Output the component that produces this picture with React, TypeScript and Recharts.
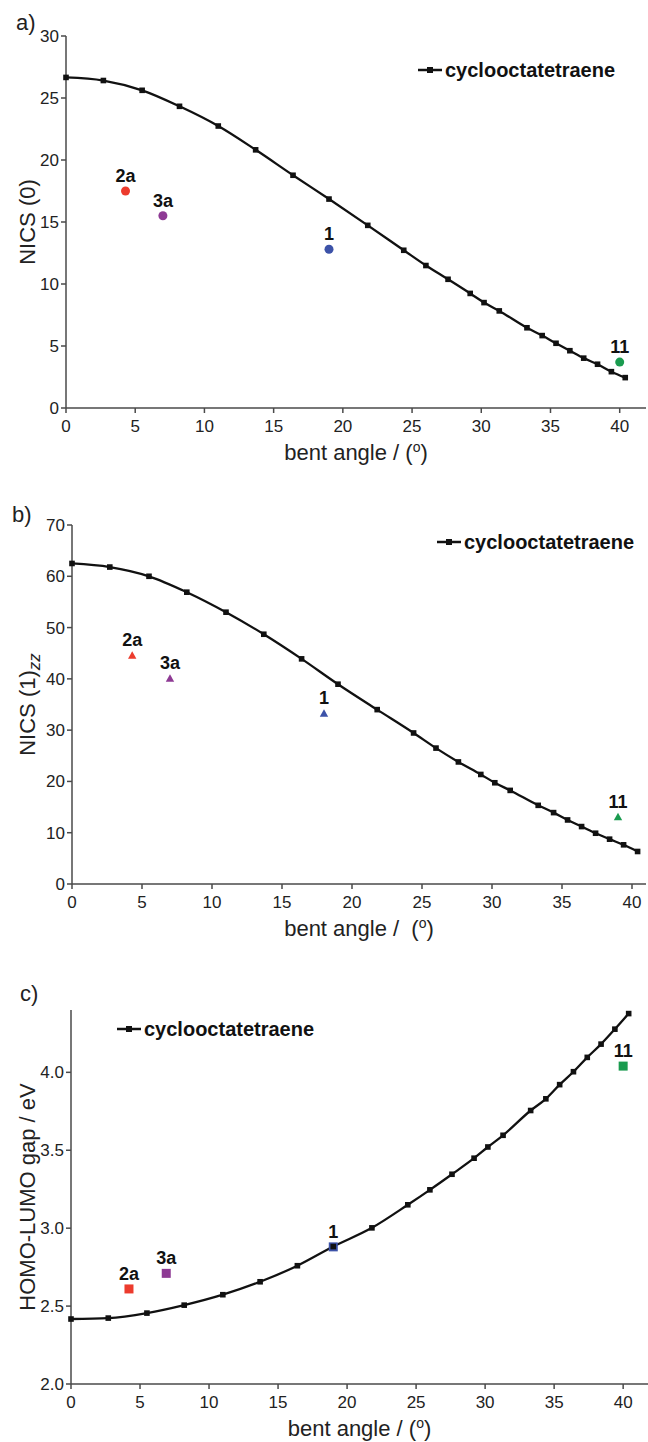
import React from 'react';
import { ComposedChart, Line, Scatter, XAxis, YAxis, Legend, Cell, Label } from 'recharts';

// computed cyclooctatetraene curve (bent angle in degrees)
const bentAngles = [0, 2.7, 5.5, 8.2, 11.0, 13.7, 16.4, 19.0, 21.8, 24.4, 26.0, 27.6, 29.2, 30.2, 31.3, 33.3, 34.4, 35.4, 36.4, 37.4, 38.4, 39.4, 40.4];
const nics0Curve = [26.66, 26.41, 25.62, 24.33, 22.74, 20.82, 18.77, 16.85, 14.73, 12.72, 11.49, 10.38, 9.24, 8.5, 7.83, 6.47, 5.84, 5.22, 4.62, 4.02, 3.53, 2.93, 2.45];
const nics1zzCurve = [62.5, 61.8, 60.0, 56.9, 53.0, 48.7, 43.9, 38.96, 34.0, 29.45, 26.5, 23.8, 21.36, 19.74, 18.25, 15.34, 13.92, 12.49, 11.2, 9.9, 8.74, 7.64, 6.34];
const gapCurve = [2.417, 2.423, 2.455, 2.506, 2.573, 2.656, 2.759, 2.882, 3.002, 3.15, 3.246, 3.346, 3.449, 3.521, 3.596, 3.755, 3.83, 3.921, 4.004, 4.096, 4.181, 4.277, 4.377];

// compounds
const compoundNames = ['2a', '3a', '1', '11'];
const compoundColors = ['#ec3b2d', '#8e3a94', '#3c52a8', '#1a9b4f'];
const nics0Angles = [4.3, 7.0, 19.0, 40.0];
const nics0Values = [17.5, 15.5, 12.8, 3.7];
const nics1zzAngles = [4.3, 7.0, 18.0, 39.0];
const nics1zzValues = [44.6, 40.1, 33.3, 13.1];
const gapAngles = [4.2, 6.9, 19.0, 40.0];
const gapValues = [2.61, 2.71, 2.88, 4.04];

const xTicks = [0, 5, 10, 15, 20, 25, 30, 35, 40];
const nics0Ticks = [0, 5, 10, 15, 20, 25, 30];
const nics1zzTicks = [0, 10, 20, 30, 40, 50, 60, 70];
const gapTicks = [2.0, 2.5, 3.0, 3.5, 4.0];

const FONT = "'Liberation Sans', Arial, Helvetica, sans-serif";
const AXIS = '#4a4a4a';

const toRows = (xs: number[], ys: number[], names?: string[]) =>
  xs.map((x, i) => ({ x, y: ys[i], name: names ? names[i] : '' }));

const squareDot = (props: any) => {
  const { cx, cy, index } = props;
  if (cx == null || cy == null) return <g key={`d${index}`} />;
  return <rect key={`d${index}`} x={cx - 2.8} y={cy - 2.8} width={5.6} height={5.6} fill="#111" />;
};

const pointLabel = (props: any) => (
  <text x={props.cx} y={props.cy - 9} textAnchor="middle" fontFamily={FONT} fontWeight="bold" fontSize={18} fill="#111">
    {props.payload.name}
  </text>
);

const circleShape = (props: any) => (
  <g>
    <circle cx={props.cx} cy={props.cy} r={4.5} fill={props.fill} />
    {pointLabel(props)}
  </g>
);

const triangleShape = (props: any) => {
  const { cx, cy } = props;
  return (
    <g>
      <polygon points={`${cx - 4.2},${cy + 3.5} ${cx + 4.2},${cy + 3.5} ${cx},${cy - 4}`} fill={props.fill} />
      {pointLabel(props)}
    </g>
  );
};

const squareShape = (props: any) => (
  <g>
    <rect x={props.cx - 4.5} y={props.cy - 4.5} width={9} height={9} fill={props.fill} />
    {pointLabel(props)}
  </g>
);

interface PanelProps {
  top: number;
  height: number;
  marginTop: number;
  plotHeight: number;
  yWidth: number;
  marginRight: number;
  xMax: number;
  yDomain: [number, number];
  yTicks: number[];
  curve: number[];
  angles: number[];
  values: number[];
  shape: (p: any) => React.ReactElement;
  yTitle: React.ReactNode;
  xGap: string;
  legendX: number;
  legendY: number;
  letter: string;
  letterX: number;
  letterY: number;
  fmt?: (v: number) => string;
}

const Panel: React.FC<PanelProps> = (p) => {
  const xAxisH = p.height - p.marginTop - p.plotHeight;
  const plotTop = p.marginTop;
  const plotBottom = p.marginTop + p.plotHeight;
  const plotLeft = p.yWidth;
  const plotRight = 648 - p.marginRight;
  const curveRows = toRows(bentAngles, p.curve);
  const pointRows = toRows(p.angles, p.values, compoundNames);

  const renderLegend = () => (
    <div style={{ display: 'flex', alignItems: 'center', height: 24, fontFamily: FONT, fontWeight: 'bold', fontSize: 20, color: '#111', whiteSpace: 'nowrap' }}>
      <svg width={26} height={24}>
        <line x1={1} y1={12} x2={25} y2={12} stroke="#111" strokeWidth={2.5} />
        <rect x={10} y={9} width={6} height={6} fill="#111" />
      </svg>
      <span style={{ marginLeft: 2 }}>cyclooctatetraene</span>
    </div>
  );

  return (
    <div style={{ position: 'absolute', left: 0, top: p.top, width: 648, height: p.height }}>
      <ComposedChart width={648} height={p.height} margin={{ top: p.marginTop, right: p.marginRight, bottom: 0, left: 0 }}>
        <XAxis
          type="number"
          dataKey="x"
          domain={[0, p.xMax]}
          ticks={xTicks}
          height={xAxisH}
          tickSize={5}
          tickMargin={7}
          interval={0}
          axisLine={{ stroke: AXIS, strokeWidth: 1.5 }}
          tickLine={{ stroke: AXIS, strokeWidth: 1.5 }}
          tick={{ fill: '#222', fontSize: 17, fontFamily: FONT }}
        >
          <Label
            content={() => (
              <text x={(plotLeft + plotRight) / 2} y={plotBottom + 52} textAnchor="middle" fontFamily={FONT} fontSize={22} fill="#222">
                {`bent angle /${p.xGap}(`}
                <tspan dy={-8} fontSize={14}>o</tspan>
                <tspan dy={8}>)</tspan>
              </text>
            )}
          />
        </XAxis>
        <YAxis
          type="number"
          domain={p.yDomain}
          ticks={p.yTicks}
          width={p.yWidth}
          tickSize={5}
          tickMargin={2}
          interval={0}
          tickFormatter={p.fmt}
          axisLine={{ stroke: AXIS, strokeWidth: 1.5 }}
          tickLine={{ stroke: AXIS, strokeWidth: 1.5 }}
          tick={{ fill: '#222', fontSize: 17, fontFamily: FONT }}
        >
          <Label
            content={() => {
              const cy = (plotTop + plotBottom) / 2;
              return (
                <text x={35} y={cy} transform={`rotate(-90, 35, ${cy})`} textAnchor="middle" fontFamily={FONT} fontSize={22} fill="#222">
                  {p.yTitle}
                </text>
              );
            }}
          />
        </YAxis>
        <Legend
          layout="vertical"
          align="center"
          verticalAlign="middle"
          content={renderLegend}
          wrapperStyle={{ left: p.legendX, top: p.legendY - p.top - 12, width: 'auto', height: 24 }}
        />
        <Line
          data={curveRows}
          dataKey="y"
          type="monotone"
          stroke="#111"
          strokeWidth={2.3}
          dot={squareDot}
          activeDot={false}
          isAnimationActive={false}
        />
        <Scatter data={pointRows} dataKey="y" shape={p.shape} isAnimationActive={false}>
          {pointRows.map((r, i) => (
            <Cell key={r.name} fill={compoundColors[i]} />
          ))}
        </Scatter>
      </ComposedChart>
      <svg style={{ position: 'absolute', left: 0, top: 0, pointerEvents: 'none' }} width={648} height={p.height}>
        <text x={p.letterX} y={p.letterY - p.top} fontFamily={FONT} fontSize={22} fill="#222">{p.letter}</text>
      </svg>
    </div>
  );
};

export default function App() {
  return (
    <div style={{ position: 'relative', width: 648, height: 1442, background: '#fff' }}>
      <style>{`body{margin:0;background:#fff}`}</style>
      <Panel
        top={0}
        height={470}
        marginTop={36}
        plotHeight={372}
        yWidth={66}
        marginRight={2}
        xMax={41.9}
        yDomain={[0, 30]}
        yTicks={nics0Ticks}
        curve={nics0Curve}
        angles={nics0Angles}
        values={nics0Values}
        shape={circleShape}
        yTitle="NICS (0)"
        xGap=" "
        legendX={417}
        legendY={70}
        letter="a)"
        letterX={16}
        letterY={30}
      />
      <Panel
        top={470}
        height={480}
        marginTop={55}
        plotHeight={359}
        yWidth={72}
        marginRight={2}
        xMax={41}
        yDomain={[0, 70]}
        yTicks={nics1zzTicks}
        curve={nics1zzCurve}
        angles={nics1zzAngles}
        values={nics1zzValues}
        shape={triangleShape}
        yTitle={
          <>
            <tspan>NICS (1)</tspan>
            <tspan dy={5} fontSize={17} fontStyle="italic">zz</tspan>
          </>
        }
        xGap={'\u00a0\u00a0'}
        legendX={436}
        legendY={542}
        letter="b)"
        letterX={12}
        letterY={522}
      />
      <Panel
        top={950}
        height={492}
        marginTop={60}
        plotHeight={374}
        yWidth={71}
        marginRight={0}
        xMax={41.8}
        yDomain={[2.0, 4.4]}
        yTicks={gapTicks}
        fmt={(v: number) => v.toFixed(1)}
        curve={gapCurve}
        angles={gapAngles}
        values={gapValues}
        shape={squareShape}
        yTitle="HOMO-LUMO gap / eV"
        xGap=" "
        legendX={116}
        legendY={1029}
        letter="c)"
        letterX={20}
        letterY={1001}
      />
    </div>
  );
}
